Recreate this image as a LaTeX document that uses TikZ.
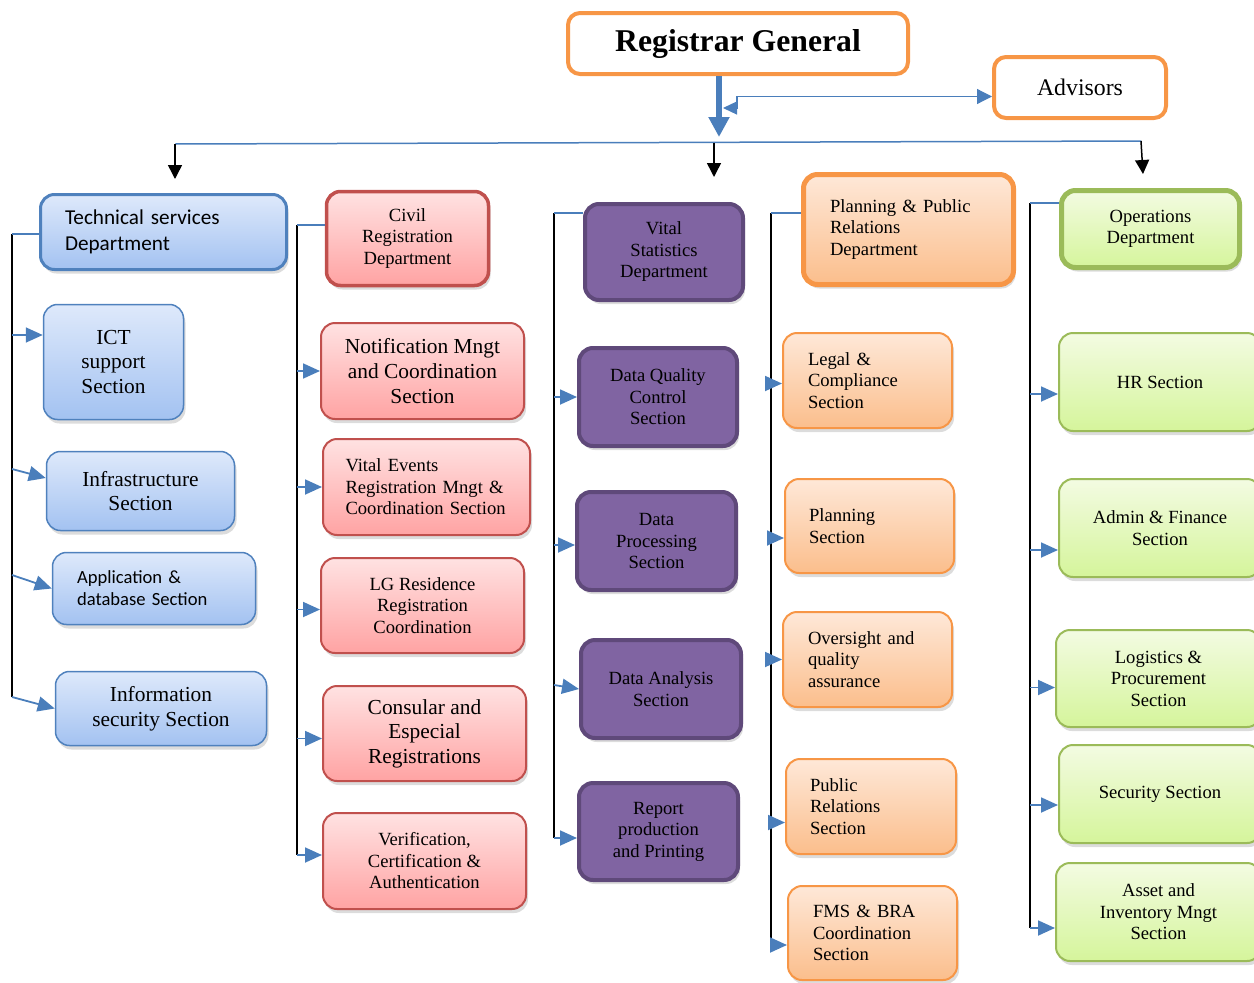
\documentclass[tikz,border=0pt]{standalone}
\usepackage{fontspec}
\setmainfont{Liberation Serif}
\newfontfamily\calfont{Carlito}
\usetikzlibrary{arrows.meta,shadows}
\definecolor{bluebd}{RGB}{79,129,189}
\definecolor{bluetop}{RGB}{222,233,251}
\definecolor{bluebot}{RGB}{163,194,241}
\definecolor{redbd}{RGB}{192,80,77}
\definecolor{redtop}{RGB}{255,226,226}
\definecolor{redbot}{RGB}{255,163,163}
\definecolor{purfill}{RGB}{128,100,162}
\definecolor{purbd}{RGB}{95,73,122}
\definecolor{orbd}{RGB}{247,150,70}
\definecolor{ortop}{RGB}{254,232,216}
\definecolor{orbot}{RGB}{251,190,140}
\definecolor{grbd}{RGB}{155,187,89}
\definecolor{grtop}{RGB}{243,251,226}
\definecolor{grbot}{RGB}{213,245,155}
\definecolor{arrblue}{RGB}{74,126,187}
\newcommand\txtS{\fontsize{18.6}{21.5}\selectfont}
\newcommand\txtL{\fontsize{21.4}{24.6}\selectfont}
\begin{document}
\begin{tikzpicture}[x=1pt,y=-1pt,
  box/.style={rounded corners=14pt, inner sep=0pt, align=center,
     drop shadow={shadow xshift=2pt,shadow yshift=-4pt,opacity=0.28}},
  fS/.style={font=\txtS},
  fL/.style={font=\txtL},
  bluebox/.style={box, draw=bluebd, line width=1.5pt, top color=bluetop, bottom color=bluebot},
  bluedept/.style={bluebox, line width=3pt},
  redbox/.style={box, draw=redbd, line width=2pt, top color=redtop, bottom color=redbot},
  reddept/.style={redbox, line width=3.5pt},
  purbox/.style={box, draw=purbd, line width=4pt, fill=purfill},
  orbox/.style={box, draw=orbd, line width=2pt, top color=ortop, bottom color=orbot},
  ordept/.style={orbox, line width=5pt},
  grbox/.style={box, draw=grbd, line width=2pt, top color=grtop, bottom color=grbot},
  grdept/.style={grbox, line width=5pt},
  topbox/.style={rounded corners=12pt, inner sep=0pt, draw=orbd, line width=4pt, fill=white},
  trunk/.style={black, line width=2pt},
  feed/.style={arrblue, line width=1.5pt},
  sub/.style={arrblue, line width=1.8pt, -{Triangle[length=17pt,width=15pt]}},
  down/.style={black, line width=1.5pt, -{Triangle[length=14pt,width=14pt]}},
]
\useasboundingbox (0,0) rectangle (1254,983);
\clip (0,0) rectangle (1254,983);

% top
\node[topbox, minimum width=340pt, minimum height=61pt, font={\fontsize{31.7}{36}\selectfont\bfseries}] (rg) at (738,43.5)
  {\raisebox{-3pt}{Registrar General}};
\node[topbox, minimum width=172pt, minimum height=61pt, font={\fontsize{23.8}{27}\selectfont}] (adv) at (1080,87.5)
  {Advisors};

% column 1
\node[bluedept, minimum width=246pt, minimum height=75pt, text width=197pt, align=left, font={\calfont\fontsize{21.2}{26}\selectfont}] (tech) at (163.5,232)
  {Technical services\\Department};
\node[bluebox, fL, minimum width=140pt, minimum height=115pt] (ict) at (113.5,362)
  {ICT\\support\\Section};
\node[bluebox, fL, minimum width=188pt, minimum height=79pt] (infra) at (140.5,491)
  {Infrastructure\\Section};
\node[bluebox, minimum width=203pt, minimum height=72pt, text width=154pt, align=left, font={\calfont\fontsize{18.6}{22}\selectfont}] (app) at (154,588.5)
  {Application \&\\database Section};
\node[bluebox, fL, minimum width=211pt, minimum height=74pt] (info) at (161,708.5)
  {Information\\security Section};

% column 2
\node[reddept, fS, minimum width=162pt, minimum height=94pt] (civil) at (407.5,238.5)
  {Civil\\Registration\\Department};
\node[redbox, fL, minimum width=203pt, minimum height=96pt] (notif) at (422.5,371)
  {Notification Mngt\\and Coordination\\Section};
\node[redbox, fS, minimum width=207pt, minimum height=96pt, text width=162pt, align=left] (vital) at (426.5,487)
  {Vital Events\\Registration Mngt \&\\Coordination Section};
\node[redbox, fS, minimum width=203pt, minimum height=95pt] (lg) at (422.5,605.5)
  {LG Residence\\Registration\\Coordination};
\node[redbox, fL, minimum width=203pt, minimum height=95pt] (cons) at (424.5,733.5)
  {Consular and\\Especial\\Registrations};
\node[redbox, fS, minimum width=203pt, minimum height=96pt] (verif) at (424.5,861)
  {Verification,\\Certification \&\\Authentication};

% column 3
\node[purbox, fS, minimum width=158pt, minimum height=96pt] (vs) at (664,252)
  {Vital\\Statistics\\Department};
\node[purbox, fS, minimum width=158pt, minimum height=98pt] (dq) at (658,397)
  {Data Quality\\Control\\Section};
\node[purbox, fS, minimum width=159pt, minimum height=98pt] (dp) at (656.5,541)
  {Data\\Processing\\Section};
\node[purbox, fS, minimum width=160pt, minimum height=98pt] (da) at (661,689)
  {Data Analysis\\Section};
\node[purbox, fS, minimum width=159pt, minimum height=97pt] (rp) at (658.5,831.5)
  {Report\\production\\and Printing};

% column 4
\node[ordept, fS, minimum width=210pt, minimum height=110pt, text width=157pt, align=left] (ppr) at (908.5,229.5)
  {Planning \& Public\\Relations\\Department};
\node[orbox, fS, minimum width=169pt, minimum height=95pt, text width=119pt, align=left] (legal) at (867.5,380.5)
  {Legal \&\\Compliance\\Section};
\node[orbox, fS, minimum width=169pt, minimum height=94pt, text width=121pt, align=left] (plan) at (869.5,526)
  {Planning\\Section};
\node[orbox, fS, minimum width=169pt, minimum height=95pt, text width=119pt, align=left] (over) at (867.5,659.5)
  {Oversight and\\quality\\assurance};
\node[orbox, fS, minimum width=170pt, minimum height=95pt, text width=122pt, align=left] (pub) at (871,806.5)
  {Public\\Relations\\Section};
\node[orbox, fS, minimum width=169pt, minimum height=94pt, text width=119pt, align=left] (fms) at (872.5,933)
  {FMS \& BRA\\Coordination\\Section};

% column 5
\node[grdept, fS, minimum width=178pt, minimum height=77pt] (ops) at (1150.5,229)
  {Operations\\Department};
\node[grbox, fS, minimum width=202pt, minimum height=98pt] (hr) at (1160,382)
  {HR Section};
\node[grbox, fS, minimum width=202pt, minimum height=98pt] (adm) at (1160,528)
  {Admin \& Finance\\Section};
\node[grbox, fS, minimum width=205pt, minimum height=97pt] (logi) at (1158.5,678.5)
  {Logistics \&\\Procurement\\Section};
\node[grbox, fS, minimum width=202pt, minimum height=98pt] (secu) at (1160,794)
  {Security Section};
\node[grbox, fS, minimum width=205pt, minimum height=98pt] (asset) at (1158.5,912)
  {Asset and\\Inventory Mngt\\Section};

% top connectors
\coordinate (rgtip) at (719,137);
\draw[arrblue, line width=6pt, -{Triangle[length=20pt,width=20pt]}] (rg.south -| rgtip) -- (rgtip);
\coordinate (advin) at (723,108);
\coordinate (advk) at (737,108);
\draw[arrblue, line width=1.2pt, {Triangle[length=14pt,width=13pt]}-{Triangle[length=15pt,width=15pt]}]
  (advin) -- (advk) |- ([yshift=-9pt]adv.west);
\coordinate (hl) at (175,144);
\coordinate (hm) at (714,143);
\coordinate (hr2) at (1141,141);
\draw[feed] (hl) -- (hr2);
\coordinate (d1) at (175,179);
\coordinate (d2) at (714,177);
\coordinate (d3) at (1143,174);
\draw[down] (hl) -- (d1);
\draw[down] (hm) -- (d2);
\draw[down] (hr2) -- (d3);

% column 1 trunk
\coordinate (t1a) at (12,234);
\coordinate (t1b) at (12,697);
\draw[trunk] (t1a) -- (t1b);
\draw[feed] (t1a) -- (tech.west |- t1a);
\coordinate (s11) at (12,335);
\coordinate (s12) at (12,469);
\coordinate (s13) at (12,575);
\draw[sub] (s11) -- ([yshift=27pt]ict.west);
\draw[sub] (s12) -- ([yshift=13pt]infra.west);
\draw[sub] (s13) -- (app.west);
\draw[sub] (t1b) -- (info.west);

% column 2 trunk
\coordinate (t2a) at (297,225);
\coordinate (t2b) at (297,855);
\draw[trunk] (t2a) -- (t2b);
\draw[feed] (t2a) -- (civil.west |- t2a);
\draw[sub] (t2a |- notif.west) -- (notif.west);
\draw[sub] (t2a |- vital.west) -- (vital.west);
\draw[sub] ([yshift=-4pt]lg.west -| t2a) -- ([yshift=-4pt]lg.west);
\draw[sub] ([yshift=-5pt]cons.west -| t2a) -- ([yshift=-5pt]cons.west);
\draw[sub] (t2b) -- (verif.west |- t2b);

% column 3 trunk
\coordinate (t3a) at (554,213);
\coordinate (t3b) at (554,838);
\draw[trunk] (t3a) -- (t3b);
\draw[feed] (t3a) -- (vs.west |- t3a);
\draw[sub] (t3a |- dq.west) -- (dq.west);
\draw[sub] ([yshift=-4pt]dp.west -| t3a) -- ([yshift=-4pt]dp.west);
\draw[sub] ([yshift=4pt]da.west -| t3a) -- (da.west);
\draw[sub] (t3b) -- (rp.west |- t3b);

% column 4 trunk
\coordinate (t4a) at (771,213);
\coordinate (t4b) at (771,945);
\draw[trunk] (t4a) -- (t4b);
\draw[feed] (t4a) -- (ppr.west |- t4a);
\draw[sub] ([yshift=-3pt]legal.west -| t4a) -- ([yshift=-3pt]legal.west);
\draw[sub] ([yshift=-12pt]plan.west -| t4a) -- ([yshift=-12pt]plan.west);
\draw[sub] (t4a |- over.west) -- (over.west);
\draw[sub] ([yshift=-16pt]pub.west -| t4a) -- ([yshift=-16pt]pub.west);
\draw[sub] (t4b) -- (fms.west |- t4b);

% column 5 trunk
\coordinate (t5a) at (1030,203);
\coordinate (t5b) at (1030,928);
\draw[trunk] (t5a) -- (t5b);
\draw[feed] (t5a) -- (ops.west |- t5a);
\draw[sub] ([yshift=-12pt]hr.west -| t5a) -- ([yshift=-12pt]hr.west);
\draw[sub] ([yshift=-22pt]adm.west -| t5a) -- ([yshift=-22pt]adm.west);
\draw[sub] ([yshift=-9pt]logi.west -| t5a) -- ([yshift=-9pt]logi.west);
\draw[sub] ([yshift=-11pt]secu.west -| t5a) -- ([yshift=-11pt]secu.west);
\draw[sub] (t5b) -- (asset.west |- t5b);
\end{tikzpicture}
\end{document}
